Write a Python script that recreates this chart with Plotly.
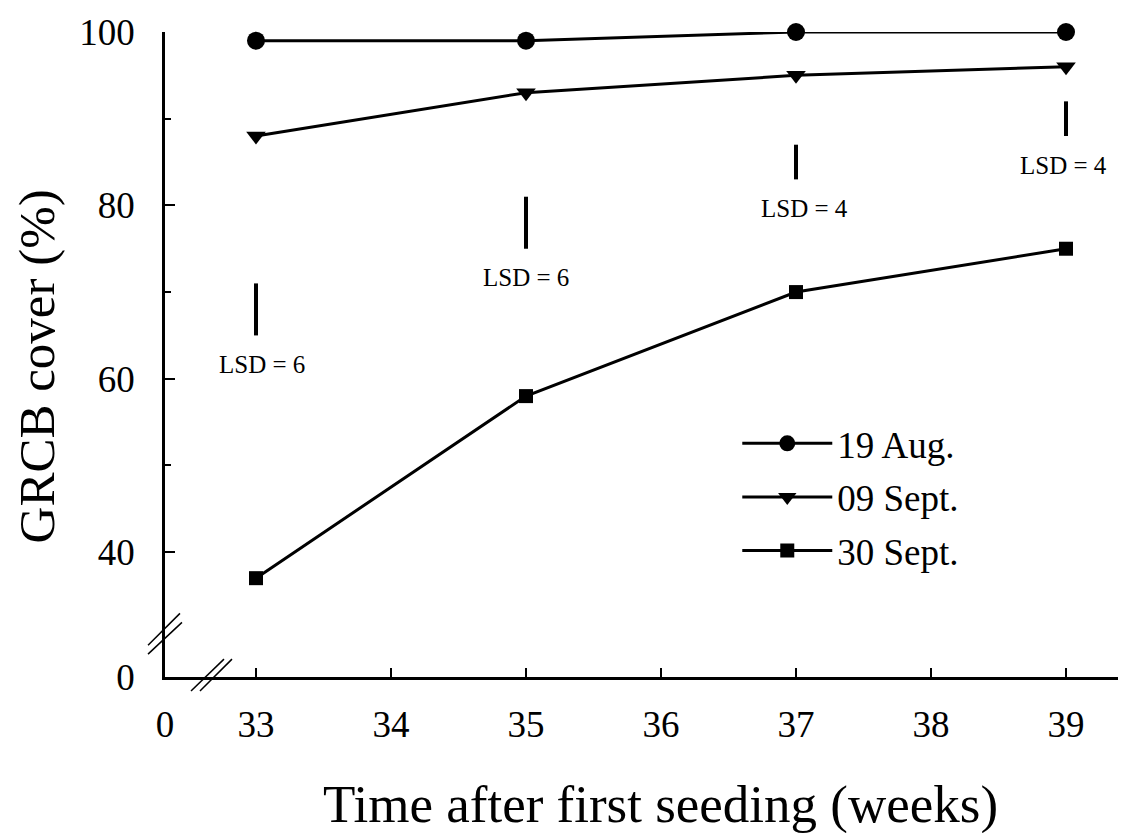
import plotly.graph_objects as go

# ---- data ----
weeks = [33, 35, 37, 39]
aug19 = [99, 99, 100, 100]
sep09 = [88, 93, 95, 96]
sep30 = [37, 58, 70, 75]
series_names = ["19 Aug.", "09 Sept.", "30 Sept."]
lsd_values = [6, 6, 4, 4]
lsd_bottom = [65, 75, 83, 88]

x_tick_vals = [33, 34, 35, 36, 37, 38, 39]
y_tick_vals = [40, 60, 80, 100]
y_minor_vals = [50, 70, 90]

# axis break: "0" is drawn at a compressed position
X_ZERO_POS = 32.326
Y_ZERO_POS = 25.6

FONT = "Palatino Linotype, Book Antiqua, Palatino, Liberation Serif, serif"

fig = go.Figure()

markers = ["circle", "triangle-down", "square"]
msizes = [18, 17, 14]
for i, (name, vals) in enumerate(zip(series_names, [aug19, sep09, sep30])):
    fig.add_trace(go.Scatter(
        x=weeks, y=vals, mode="lines+markers", name=name,
        line=dict(color="black", width=3),
        marker=dict(symbol=markers[i], size=msizes[i], color="black"),
        cliponaxis=False,
        legend=["legend", "legend2", "legend3"][i],
    ))

# LSD bars
lx, ly = [], []
for w, b, v in zip(weeks, lsd_bottom, lsd_values):
    lx += [w, w, None]
    ly += [b, b + v, None]
fig.add_trace(go.Scatter(x=lx, y=ly, mode="lines", line=dict(color="black", width=4),
                         showlegend=False, hoverinfo="skip"))

xshifts = [6, 0, 8, -3]
for w, b, v, xs in zip(weeks, lsd_bottom, lsd_values, xshifts):
    fig.add_annotation(x=w, y=b, text=f"LSD = {v}", showarrow=False,
                       yshift=-29, xshift=xs, yanchor="middle",
                       font=dict(family=FONT, size=25, color="black"))

# break marks (domain coords)
for x0, y0, x1, y1 in [(-0.0178, 0.0493, 0.0157, 0.0986),
                       (-0.0178, 0.0354, 0.0178, 0.0847),
                       (0.0273, -0.0216, 0.0619, 0.0277),
                       (0.0367, -0.0216, 0.0703, 0.0277)]:
    fig.add_shape(type="line", xref="x domain", yref="y domain",
                  x0=x0, y0=y0, x1=x1, y1=y1, line=dict(color="black", width=1.5))

# axis titles
fig.add_annotation(xref="paper", yref="paper", x=0.52, y=-0.197,
                   text="Time after first seeding (weeks)", showarrow=False,
                   xanchor="center", yanchor="middle",
                   font=dict(family=FONT, size=53, color="black"))
fig.add_annotation(xref="paper", yref="paper", x=-0.134, y=0.482,
                   text="GRCB cover (%)", showarrow=False, textangle=-90,
                   xanchor="center", yanchor="middle",
                   font=dict(family=FONT, size=51, color="black"))

legend_common = dict(font=dict(family=FONT, size=37, color="black"),
                     bgcolor="rgba(0,0,0,0)", itemwidth=90,
                     xanchor="left", yanchor="middle", x=0.6005)
fig.update_layout(
    width=1130, height=833,
    margin=dict(l=165, r=12, t=27, b=156),
    paper_bgcolor="white", plot_bgcolor="white",
    font=dict(family=FONT, color="black"),
    legend=dict(**legend_common, y=(677 - 442) / 650),
    legend2=dict(**legend_common, y=(677 - 496) / 650),
    legend3=dict(**legend_common, y=(677 - 550) / 650),
    xaxis=dict(
        range=[X_ZERO_POS, 39.385],
        tickvals=[X_ZERO_POS] + x_tick_vals,
        ticktext=["0"] + [str(v) for v in x_tick_vals],
        ticks="inside", ticklen=9, tickwidth=2, tickcolor="black",
        showline=True, linecolor="black", linewidth=2.5,
        showgrid=False, zeroline=False,
        tickfont=dict(family=FONT, size=37, color="black"),
        ticklabelstandoff=13,
    ),
    yaxis=dict(
        range=[Y_ZERO_POS, 100],
        tickvals=[Y_ZERO_POS] + y_tick_vals,
        ticktext=["0"] + [str(v) for v in y_tick_vals],
        ticks="inside", ticklen=10, tickwidth=2, tickcolor="black",
        minor=dict(tickvals=y_minor_vals, ticks="inside", ticklen=6,
                   tickwidth=2, tickcolor="black", showgrid=False),
        showline=True, linecolor="black", linewidth=2.5,
        showgrid=False, zeroline=False,
        tickfont=dict(family=FONT, size=37, color="black"),
        ticklabelstandoff=20,
    ),
)

fig.write_html(
    "out.html",
    config={"displayModeBar": False},
    post_script="document.body.style.margin='0';document.body.style.overflow='hidden';",
)
